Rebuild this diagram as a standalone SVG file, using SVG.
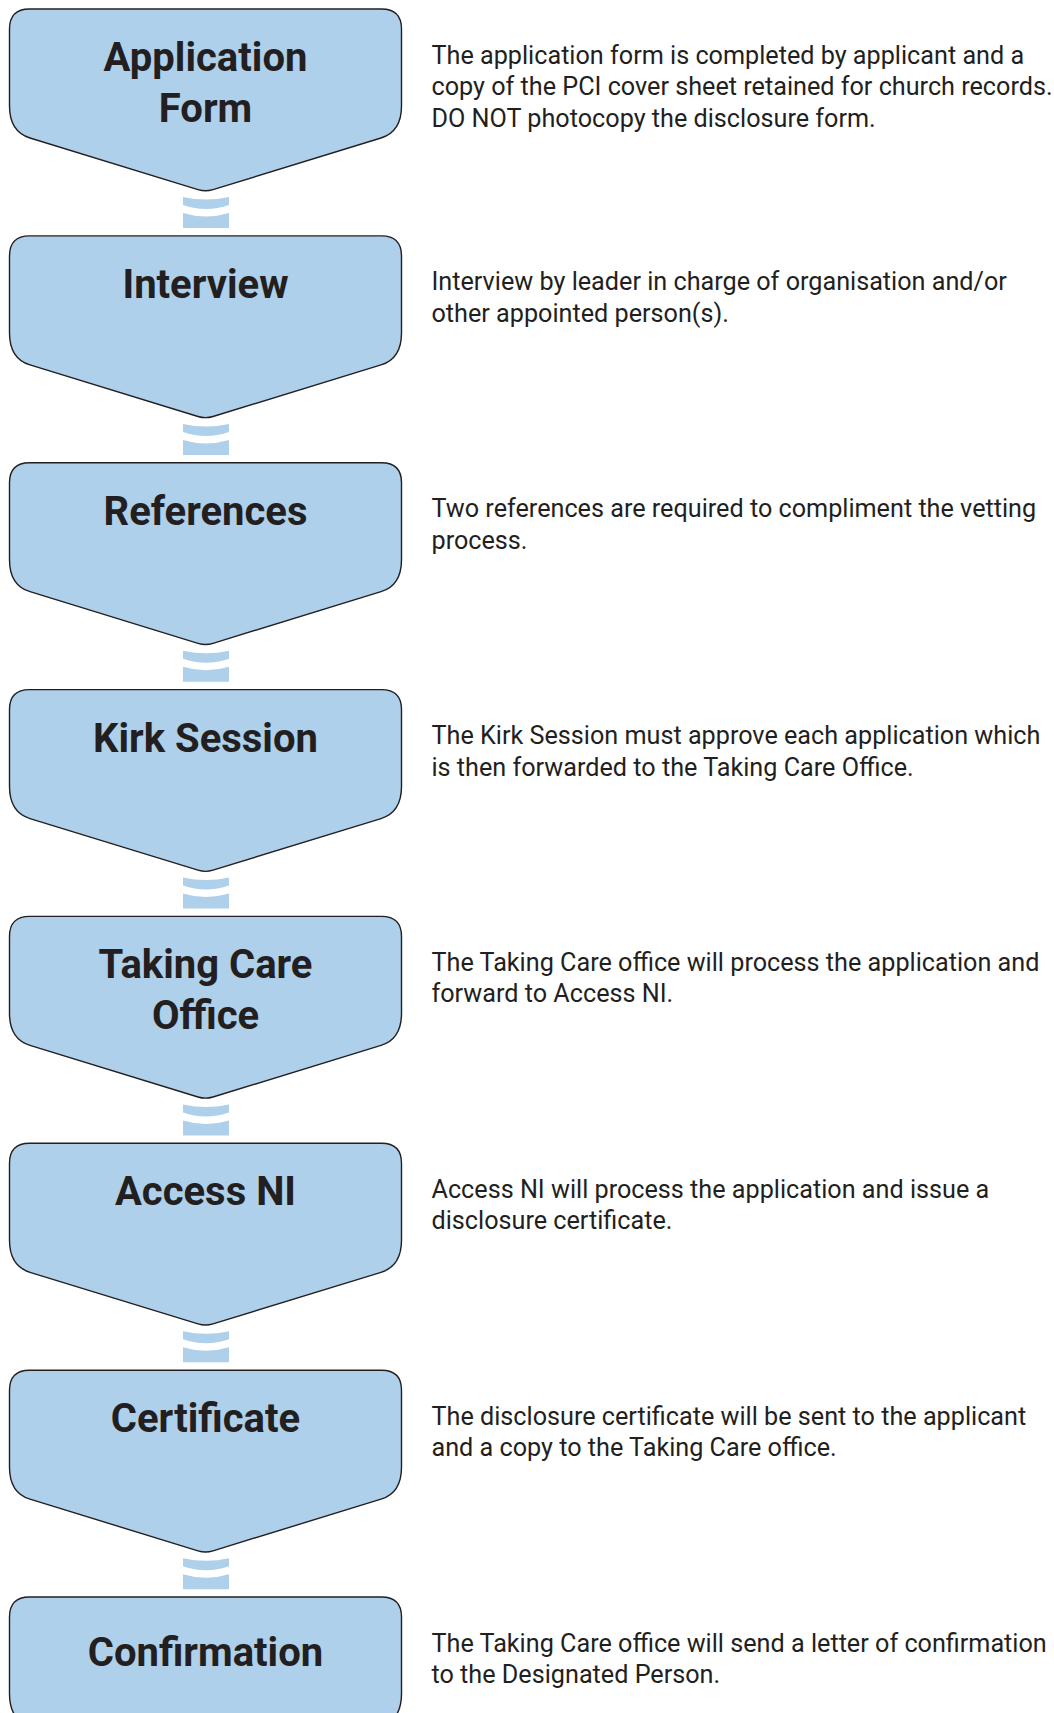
<svg xmlns="http://www.w3.org/2000/svg" xmlns:xlink="http://www.w3.org/1999/xlink" width="1054" height="1713" viewBox="0 0 1054 1713">
  <style>
    .box { fill: #aed0eb; stroke: #231f20; stroke-width: 1.4; }
    .bar { fill: #aed0eb; }
    .title { font-family: Roboto, "Liberation Sans", sans-serif; font-weight: bold; font-size: 40px; fill: #231f20; text-anchor: middle; }
    .desc { font-family: Roboto, "Liberation Sans", sans-serif; font-size: 25.2px; fill: #231f20; }
  </style>
  <defs>
    <path id="chev" d="M29.5,0 H381.5 Q401.5,0 401.5,20 V97 Q401.5,122.7 381,129 L213,180.6 Q205.5,182.9 198,180.6 L30,129 Q9.5,122.7 9.5,97 V20 Q9.5,0 29.5,0 Z"/>
    <path id="link" d="M183,188 Q206,193 229,188 V196 Q206,204 183,196 Z M183,204 Q206,211 229,204 V219 H183 Z"/>
  </defs>
  <rect width="1054" height="1713" fill="#ffffff"/>

  <g id="connectors">
    <use xlink:href="#link" class="bar" transform="translate(0,9)"/>
    <use xlink:href="#link" class="bar" transform="translate(0,235.9)"/>
    <use xlink:href="#link" class="bar" transform="translate(0,462.7)"/>
    <use xlink:href="#link" class="bar" transform="translate(0,689.6)"/>
    <use xlink:href="#link" class="bar" transform="translate(0,916.4)"/>
    <use xlink:href="#link" class="bar" transform="translate(0,1143.3)"/>
    <use xlink:href="#link" class="bar" transform="translate(0,1370.2)"/>
  </g>

  <g id="application-form" transform="translate(0,9)">
    <use xlink:href="#chev" class="box"/>
    <text class="title" x="205.5" y="62">Application</text>
    <text class="title" x="205.5" y="112.5">Form</text>
    <text class="desc" x="431.5" y="54.5">The application form is completed by applicant and a</text>
    <text class="desc" x="431.5" y="86">copy of the PCI cover sheet retained for church records.</text>
    <text class="desc" x="431.5" y="117.5">DO NOT photocopy the disclosure form.</text>
  </g>

  <g id="interview" transform="translate(0,235.9)">
    <use xlink:href="#chev" class="box"/>
    <text class="title" x="205.5" y="62">Interview</text>
    <text class="desc" x="431.5" y="54.5">Interview by leader in charge of organisation and/or</text>
    <text class="desc" x="431.5" y="86">other appointed person(s).</text>
  </g>

  <g id="references" transform="translate(0,462.7)">
    <use xlink:href="#chev" class="box"/>
    <text class="title" x="205.5" y="62">References</text>
    <text class="desc" x="431.5" y="54.5">Two references are required to compliment the vetting</text>
    <text class="desc" x="431.5" y="86">process.</text>
  </g>

  <g id="kirk-session" transform="translate(0,689.6)">
    <use xlink:href="#chev" class="box"/>
    <text class="title" x="205.5" y="62">Kirk Session</text>
    <text class="desc" x="431.5" y="54.5">The Kirk Session must approve each application which</text>
    <text class="desc" x="431.5" y="86">is then forwarded to the Taking Care Office.</text>
  </g>

  <g id="taking-care-office" transform="translate(0,916.4)">
    <use xlink:href="#chev" class="box"/>
    <text class="title" x="205.5" y="62">Taking Care</text>
    <text class="title" x="205.5" y="112.5">Office</text>
    <text class="desc" x="431.5" y="54.5">The Taking Care office will process the application and</text>
    <text class="desc" x="431.5" y="86">forward to Access NI.</text>
  </g>

  <g id="access-ni" transform="translate(0,1143.3)">
    <use xlink:href="#chev" class="box"/>
    <text class="title" x="205.5" y="62">Access NI</text>
    <text class="desc" x="431.5" y="54.5">Access NI will process the application and issue a</text>
    <text class="desc" x="431.5" y="86">disclosure certificate.</text>
  </g>

  <g id="certificate" transform="translate(0,1370.2)">
    <use xlink:href="#chev" class="box"/>
    <text class="title" x="205.5" y="62">Certificate</text>
    <text class="desc" x="431.5" y="54.5">The disclosure certificate will be sent to the applicant</text>
    <text class="desc" x="431.5" y="86">and a copy to the Taking Care office.</text>
  </g>

  <g id="confirmation" transform="translate(0,1597)">
    <use xlink:href="#chev" class="box"/>
    <text class="title" x="205.5" y="69">Confirmation</text>
    <text class="desc" x="431.5" y="54.5">The Taking Care office will send a letter of confirmation</text>
    <text class="desc" x="431.5" y="86">to the Designated Person.</text>
  </g>
</svg>
